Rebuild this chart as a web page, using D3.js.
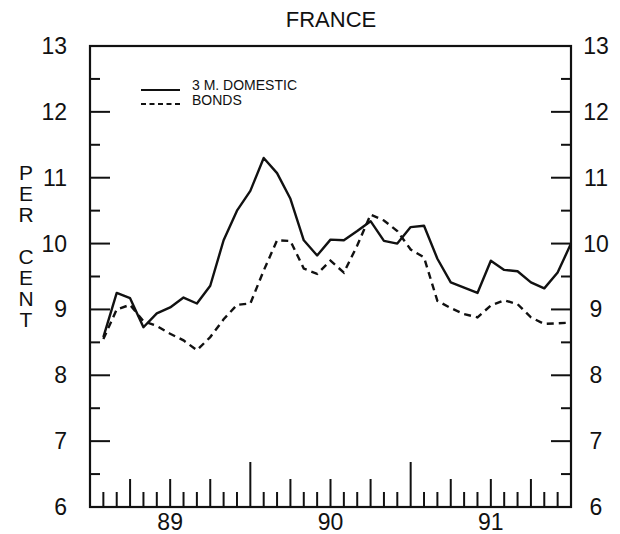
<!DOCTYPE html>
<html>
<head>
<meta charset="utf-8">
<script src="https://cdn.jsdelivr.net/npm/d3@7"></script>
<style>
  html, body { margin: 0; padding: 0; background: #fff; }
  svg { display: block; font-family: "Liberation Sans", Arial, Helvetica, sans-serif; }
</style>
</head>
<body>
<svg id="chart" width="620" height="534"></svg>
<script>
// ---- data (monthly, Jan 1989 – Dec 1991, plotted at month end) ----
const months = [
  "Jan 89","Feb 89","Mar 89","Apr 89","May 89","Jun 89","Jul 89","Aug 89","Sep 89","Oct 89","Nov 89","Dec 89",
  "Jan 90","Feb 90","Mar 90","Apr 90","May 90","Jun 90","Jul 90","Aug 90","Sep 90","Oct 90","Nov 90","Dec 90",
  "Jan 91","Feb 91","Mar 91","Apr 91","May 91","Jun 91","Jul 91","Aug 91","Sep 91","Oct 91","Nov 91","Dec 91"
];
const domestic3m = [
  8.58, 9.25, 9.17, 8.73, 8.94, 9.03, 9.18, 9.09, 9.36, 10.05, 10.50, 10.80,
  11.30, 11.07, 10.68, 10.05, 9.82, 10.06, 10.05, 10.19, 10.34, 10.04, 10.00, 10.25,
  10.27, 9.77, 9.41, 9.33, 9.25, 9.74, 9.60, 9.58, 9.41, 9.32, 9.56, 10.00
];
const bonds = [
  8.55, 9.00, 9.07, 8.82, 8.75, 8.63, 8.53, 8.38, 8.58, 8.85, 9.07, 9.09,
  9.59, 10.05, 10.04, 9.62, 9.54, 9.74, 9.56, 9.97, 10.44, 10.35, 10.19, 9.91,
  9.79, 9.13, 9.02, 8.93, 8.88, 9.06, 9.14, 9.08, 8.88, 8.78, 8.79, 8.80
];
const yearLabels = ["89", "90", "91"];
const yTickLabels = [6, 7, 8, 9, 10, 11, 12, 13];
const seriesNames = ["3 M. DOMESTIC", "BONDS"];
const title = "FRANCE";
const yTitle = ["P", "E", "R", "", "C", "E", "N", "T"];

// ---- layout ----
const svg = d3.select("#chart");
const L = 90, R = 571, T = 46, B = 507;
const x = d3.scaleLinear().domain([0, months.length]).range([L, R]);
const y = d3.scaleLinear().domain([6, 13]).range([B, T]);
const ink = "#111";

// title
svg.append("text").attr("x", 331).attr("y", 27).attr("text-anchor", "middle")
  .attr("font-size", 22).attr("fill", ink).text(title);

// vertical axis title
svg.append("g").selectAll("text").data(yTitle).join("text")
  .attr("x", 26).attr("y", (d, i) => 180 + i * 21)
  .attr("text-anchor", "middle").attr("font-size", 21).attr("fill", ink)
  .text(d => d);

// y ticks (inward) on both sides
const yMinor = d3.range(6.5, 13, 0.5);
const gTicks = svg.append("g").attr("stroke", ink).attr("stroke-width", 2);
gTicks.selectAll("line.yl").data(yMinor).join("line")
  .attr("x1", L).attr("x2", d => L + (Number.isInteger(d) ? 20 : 10))
  .attr("y1", d => y(d)).attr("y2", d => y(d));
gTicks.selectAll("line.yr").data(yMinor).join("line")
  .attr("x1", R).attr("x2", d => R - (Number.isInteger(d) ? 20 : 10))
  .attr("y1", d => y(d)).attr("y2", d => y(d));

// x ticks (monthly, quarterly, yearly)
const xt = d3.range(1, months.length);
gTicks.selectAll("line.xt").data(xt).join("line")
  .attr("x1", d => x(d)).attr("x2", d => x(d))
  .attr("y1", B).attr("y2", d => B - (d % 12 === 0 ? 45 : d % 3 === 0 ? 28 : 15));

// y labels
svg.append("g").selectAll("text").data(yTickLabels).join("text")
  .attr("x", 67).attr("y", d => y(d) + 8).attr("text-anchor", "end")
  .attr("font-size", 23).attr("fill", ink).text(d => d);
svg.append("g").selectAll("text").data(yTickLabels).join("text")
  .attr("x", 596).attr("y", d => y(d) + 8).attr("text-anchor", "middle")
  .attr("font-size", 23).attr("fill", ink).text(d => d);

// x labels (year centers)
svg.append("g").selectAll("text").data(yearLabels).join("text")
  .attr("x", (d, i) => x(6 + i * 12)).attr("y", 530).attr("text-anchor", "middle")
  .attr("font-size", 23).attr("fill", ink).text(d => d);

// frame
svg.append("rect").attr("x", L).attr("y", T).attr("width", R - L).attr("height", B - T)
  .attr("fill", "none").attr("stroke", ink).attr("stroke-width", 2.2);

// lines
const line = d3.line().x((d, i) => x(i + 1)).y(d => y(d));
svg.append("path").datum(domestic3m).attr("d", line)
  .attr("fill", "none").attr("stroke", ink).attr("stroke-width", 2.4).attr("stroke-linejoin", "round");
svg.append("path").datum(bonds).attr("d", line)
  .attr("fill", "none").attr("stroke", ink).attr("stroke-width", 2.4)
  .attr("stroke-dasharray", "7,5");

// legend
const leg = svg.append("g");
leg.append("line").attr("x1", 141).attr("x2", 180).attr("y1", 90).attr("y2", 90)
  .attr("stroke", ink).attr("stroke-width", 2);
leg.append("line").attr("x1", 141).attr("x2", 180).attr("y1", 104).attr("y2", 104)
  .attr("stroke", ink).attr("stroke-width", 2).attr("stroke-dasharray", "5,3.5");
leg.selectAll("text").data(seriesNames).join("text")
  .attr("x", 192).attr("y", (d, i) => 90 + i * 15)
  .attr("font-size", 14).attr("fill", ink).text(d => d);
</script>
</body>
</html>
